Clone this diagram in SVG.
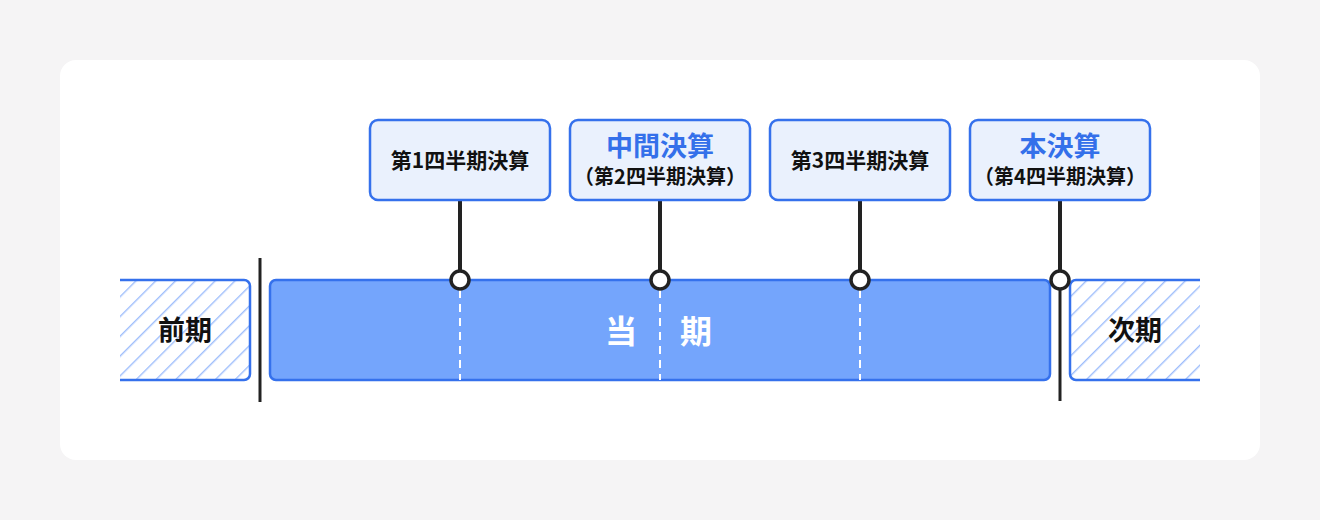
<svg xmlns="http://www.w3.org/2000/svg" width="1320" height="520" viewBox="0 0 1320 520">
<defs>
<pattern id="hatch" patternUnits="userSpaceOnUse" width="14" height="14" patternTransform="rotate(45)">
<line x1="0" y1="0" x2="0" y2="14" stroke="#9ebdfb" stroke-width="2.8"/>
</pattern>
<clipPath id="clipL"><rect x="120" y="270" width="140" height="120"/></clipPath>
<clipPath id="clipR"><rect x="1060" y="270" width="140" height="120"/></clipPath>
</defs>
<style>
.lbl{font-family:"Noto Sans CJK JP","Noto Sans",sans-serif;font-weight:700;text-anchor:middle}
.box{fill:#eaf1fd;stroke:#3571ec;stroke-width:2.5}
.stem{stroke:#222;stroke-width:4}
.dot{fill:#fff;stroke:#222;stroke-width:3.5}
.dash{stroke:#fff;stroke-width:2;stroke-dasharray:8 6}
</style>
<rect width="1320" height="520" fill="#f5f4f5"/>
<rect x="60" y="60" width="1200" height="400" rx="16" fill="#fff"/>

<g id="prev">
<g clip-path="url(#clipL)">
<rect x="100" y="280" width="150" height="100" rx="6" fill="url(#hatch)" stroke="#3571ec" stroke-width="2.5"/>
</g>
<text class="lbl" x="185" y="340" font-size="27" fill="#111">前期</text>
</g>

<g id="next">
<g clip-path="url(#clipR)">
<rect x="1070" y="280" width="150" height="100" rx="6" fill="url(#hatch)" stroke="#3571ec" stroke-width="2.5"/>
</g>
<text class="lbl" x="1135" y="340" font-size="27" fill="#111">次期</text>
</g>

<g id="current">
<rect x="270" y="280" width="780" height="100" rx="6" fill="#74a5fc" stroke="#3571ec" stroke-width="2.5"/>
<line class="dash" x1="460" y1="290" x2="460" y2="380"/>
<line class="dash" x1="660" y1="290" x2="660" y2="380"/>
<line class="dash" x1="860" y1="290" x2="860" y2="380"/>
<text class="lbl" x="621" y="343" font-size="32" fill="#fff">当</text>
<text class="lbl" x="696" y="343" font-size="32" fill="#fff">期</text>
</g>

<g id="connectors">
<line x1="260" y1="258" x2="260" y2="402" stroke="#222" stroke-width="3"/>
<line x1="1060" y1="280" x2="1060" y2="401" stroke="#222" stroke-width="3"/>
<line class="stem" x1="460" y1="200" x2="460" y2="272"/>
<line class="stem" x1="660" y1="200" x2="660" y2="272"/>
<line class="stem" x1="860" y1="200" x2="860" y2="272"/>
<line class="stem" x1="1060" y1="200" x2="1060" y2="272"/>
<circle class="dot" cx="460" cy="280" r="9"/>
<circle class="dot" cx="660" cy="280" r="9"/>
<circle class="dot" cx="860" cy="280" r="9"/>
<circle class="dot" cx="1060" cy="280" r="9"/>
</g>

<g id="q1">
<rect class="box" x="370" y="120" width="180" height="80" rx="8"/>
<text class="lbl" x="460" y="168" font-size="21" fill="#111">第1四半期決算</text>
</g>
<g id="q2">
<rect class="box" x="570" y="120" width="180" height="80" rx="8"/>
<text class="lbl" x="660" y="156" font-size="27" fill="#3470ea">中間決算</text>
<text class="lbl" x="660" y="184" font-size="20" fill="#111">（第2四半期決算）</text>
</g>
<g id="q3">
<rect class="box" x="770" y="120" width="180" height="80" rx="8"/>
<text class="lbl" x="860" y="168" font-size="21" fill="#111">第3四半期決算</text>
</g>
<g id="q4">
<rect class="box" x="970" y="120" width="180" height="80" rx="8"/>
<text class="lbl" x="1060" y="156" font-size="27" fill="#3470ea">本決算</text>
<text class="lbl" x="1060" y="184" font-size="20" fill="#111">（第4四半期決算）</text>
</g>
</svg>
